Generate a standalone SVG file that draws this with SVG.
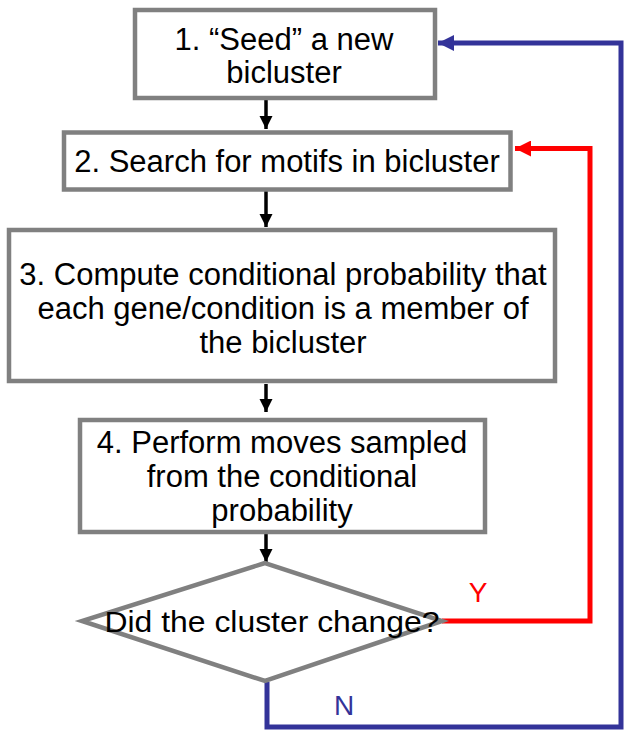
<svg xmlns="http://www.w3.org/2000/svg" width="624" height="732" viewBox="0 0 624 732">
<defs>
<style>
.box{fill:#fff;stroke:#808080;stroke-width:4.5}
.t{font-family:"Liberation Sans",Arial,sans-serif;font-size:31px;fill:#000;text-anchor:middle}
.k{stroke:#000;stroke-width:3.5;fill:none}
.r{stroke:#ff0000;stroke-width:5;fill:none}
.b{stroke:#333399;stroke-width:5;fill:none}
.lbl{font-family:"Liberation Sans",Arial,sans-serif;font-size:28px;text-anchor:middle}
</style>
<marker id="ak" viewBox="0 0 10 10" refX="10" refY="5" markerWidth="13" markerHeight="14" orient="auto" markerUnits="userSpaceOnUse"><path d="M0,0 L10,5 L0,10 z" fill="#000"/></marker>
<marker id="ar" viewBox="0 0 10 10" refX="10" refY="5" markerWidth="17" markerHeight="16" orient="auto" markerUnits="userSpaceOnUse"><path d="M0,0 L10,5 L0,10 z" fill="#ff0000"/></marker>
<marker id="ab" viewBox="0 0 10 10" refX="10" refY="5" markerWidth="17" markerHeight="16" orient="auto" markerUnits="userSpaceOnUse"><path d="M0,0 L10,5 L0,10 z" fill="#333399"/></marker>
</defs>
<rect width="624" height="732" fill="#fff"/>
<g id="connectors">
<line class="k" x1="266" y1="100" x2="266" y2="129" marker-end="url(#ak)"/>
<line class="k" x1="266" y1="191" x2="266" y2="227" marker-end="url(#ak)"/>
<line class="k" x1="266" y1="384" x2="266" y2="412" marker-end="url(#ak)"/>
<line class="k" x1="266" y1="534" x2="266" y2="562" marker-end="url(#ak)"/>
<polyline class="r" points="442,621 590,621 590,148.5 515,148.5" marker-end="url(#ar)"/>
<polyline class="b" points="267,682 267,727 621,727 621,43 438,43" marker-end="url(#ab)"/>
<text class="lbl" x="478" y="602" fill="#ff0000">Y</text>
<text class="lbl" x="344" y="715" fill="#333399">N</text>
</g>
<g id="n1">
<rect class="box" x="135" y="10" width="300" height="88"/>
<text class="t" x="284" y="50">1. “Seed” a new</text>
<text class="t" x="284" y="83">bicluster</text>
</g>
<g id="n2">
<rect class="box" x="64" y="132.5" width="446.5" height="57"/>
<text class="t" x="287" y="172">2. Search for motifs in bicluster</text>
</g>
<g id="n3">
<rect class="box" x="9" y="230" width="546" height="151"/>
<text class="t" x="283" y="285">3. Compute conditional probability that</text>
<text class="t" x="283" y="319">each gene/condition is a member of</text>
<text class="t" x="283" y="353">the bicluster</text>
</g>
<g id="n4">
<rect class="box" x="80" y="420" width="405" height="112"/>
<text class="t" x="282" y="453">4. Perform moves sampled</text>
<text class="t" x="282" y="487">from the conditional</text>
<text class="t" x="282" y="521">probability</text>
</g>
<g id="n5">
<polygon class="box" points="265,563 82,621 265,681 442,621" style="fill:none"/>
<text class="t" x="272" y="632" textLength="335" lengthAdjust="spacingAndGlyphs" style="font-size:29px">Did the cluster change?</text>
</g>
</svg>
